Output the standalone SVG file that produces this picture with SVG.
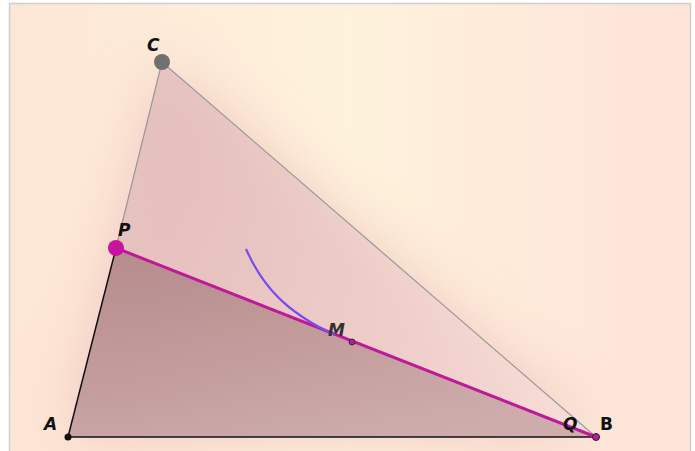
<svg xmlns="http://www.w3.org/2000/svg" width="695" height="451" viewBox="0 0 695 451">
<defs>
<linearGradient id="bg" x1="0" y1="0" x2="1" y2="0">
<stop offset="0" stop-color="#fde6d6"/>
<stop offset="0.5" stop-color="#fef2dc"/>
<stop offset="1" stop-color="#fde3d8"/>
</linearGradient>
<filter id="glow" x="-30%" y="-30%" width="160%" height="160%">
<feGaussianBlur stdDeviation="30"/>
</filter>
<linearGradient id="tri" x1="0" y1="0.3" x2="1" y2="0.7">
<stop offset="0" stop-color="#dcb4b6"/>
<stop offset="0.6" stop-color="#ecccca"/>
<stop offset="1" stop-color="#f6dcd6"/>
</linearGradient>
<linearGradient id="low" x1="0" y1="0" x2="0.3" y2="1">
<stop offset="0" stop-color="#9c6e70"/>
<stop offset="1" stop-color="#b89496"/>
</linearGradient>
<style>
.lbl{font-family:"DejaVu Sans",sans-serif;font-weight:bold;font-style:italic;font-size:17px;fill:#111}
</style>
</defs>
<rect width="695" height="451" fill="#ffffff"/>
<rect x="9.5" y="3.5" width="681" height="460" fill="url(#bg)" stroke="#cfcfcf" stroke-width="1.5"/>
<g id="glow-shape">
<polygon points="68,437 162,62 596,437" fill="#e3a6aa" opacity="0.5" filter="url(#glow)"/>
</g>
<g id="triangle-ACB">
<polygon points="68,437 162,62 596,437" fill="url(#tri)" opacity="0.7"/>
</g>
<g id="triangle-APB">
<polygon points="68,437 116,248 596,437" fill="url(#low)" opacity="0.65"/>
</g>
<g id="connectors">
<line x1="116" y1="248" x2="162" y2="62" stroke="#999" stroke-width="1.2"/>
<line x1="162" y1="62" x2="596" y2="437" stroke="#999" stroke-width="1.2"/>
<line x1="68" y1="437" x2="116" y2="248" stroke="#111" stroke-width="1.5"/>
<line x1="68" y1="437" x2="596" y2="437" stroke="#111" stroke-width="1.5"/>
<line x1="116" y1="248" x2="596" y2="437" stroke="#c0189a" stroke-width="3"/>
<path d="M246,249 C262,285 285,312 335,335" fill="none" stroke="#7a4cf0" stroke-width="2.2"/>
</g>
<g id="node-C">
<circle cx="162" cy="62" r="8" fill="#707070"/>
<text class="lbl" x="147" y="51">C</text>
</g>
<g id="node-P">
<circle cx="116" cy="248" r="8" fill="#c8149c"/>
<text class="lbl" x="118" y="236">P</text>
</g>
<g id="node-A">
<circle cx="68" cy="437" r="3.5" fill="#111"/>
<text class="lbl" x="44" y="430">A</text>
</g>
<g id="node-M">
<circle cx="352" cy="342" r="3" fill="#c0189a" stroke="#333" stroke-width="1"/>
<text class="lbl" x="328" y="336" style="fill:#333">M</text>
</g>
<g id="node-Q">
<text class="lbl" x="563" y="430">Q</text>
</g>
<g id="node-B">
<circle cx="596" cy="437" r="3.5" fill="#c0189a" stroke="#222" stroke-width="1"/>
<text class="lbl" x="600" y="430" style="font-style:normal">B</text>
</g>
</svg>
